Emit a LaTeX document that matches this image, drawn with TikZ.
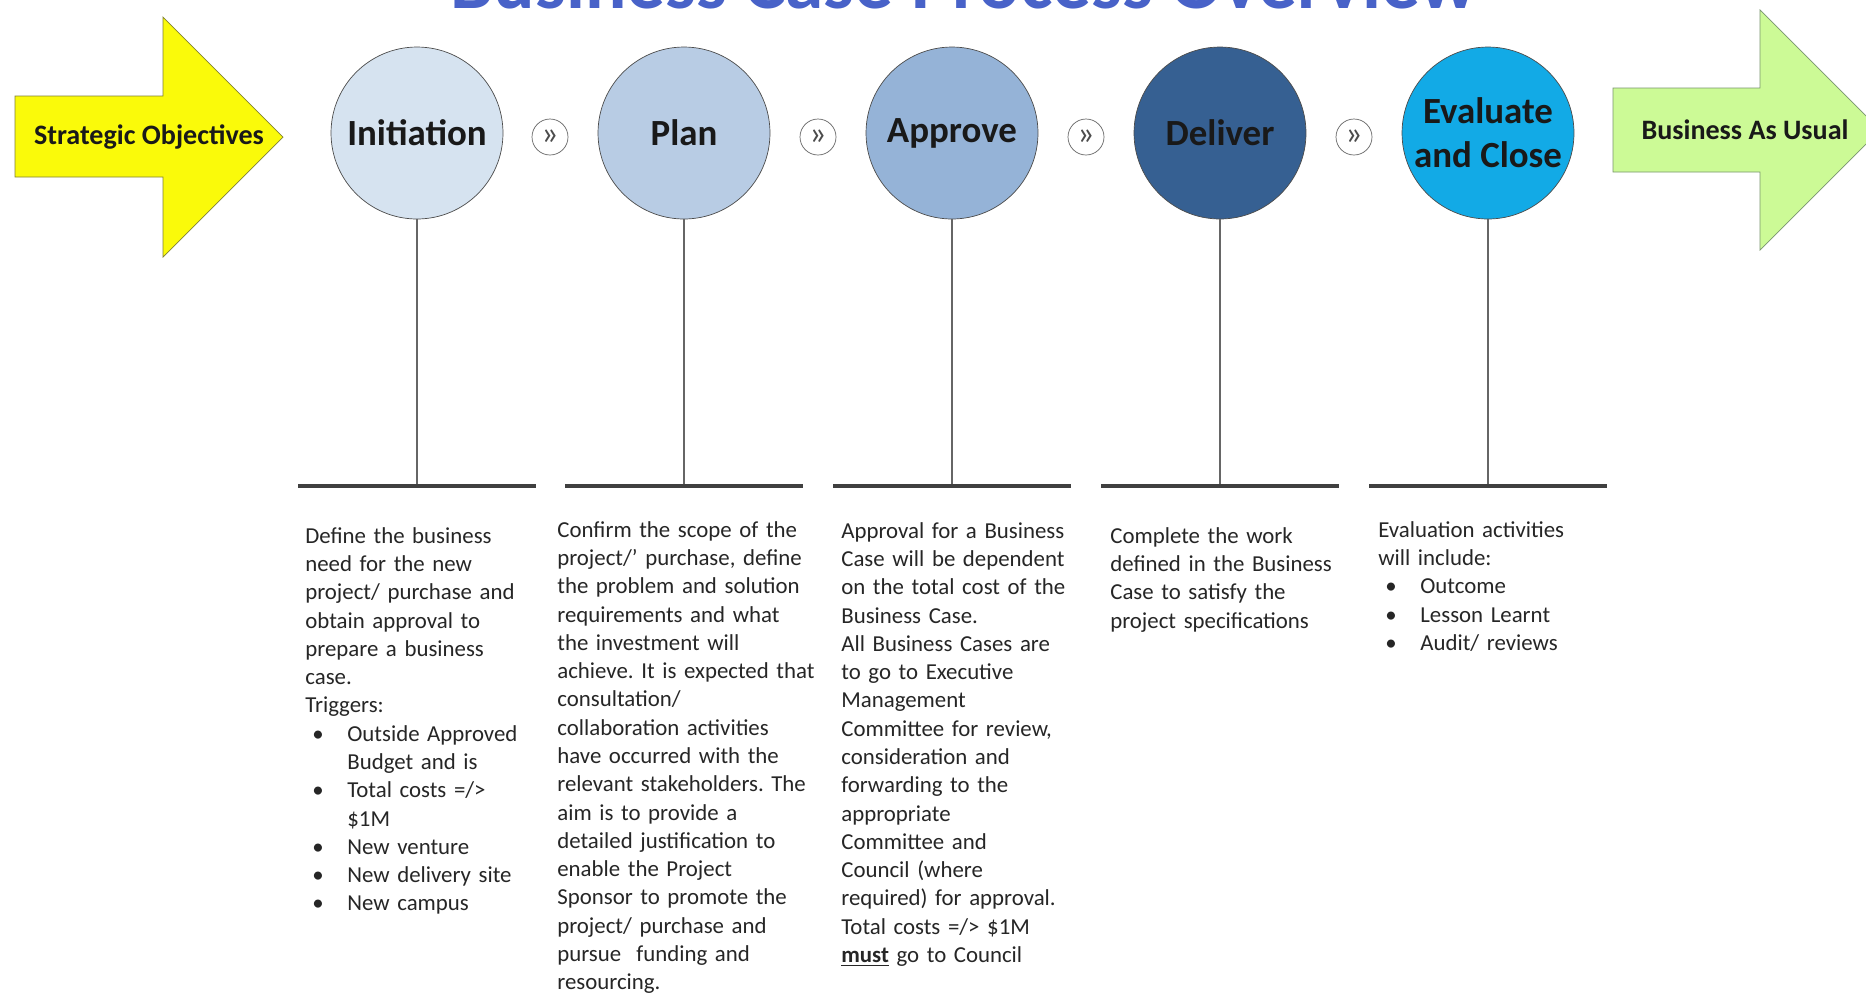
\documentclass[tikz,border=0pt]{standalone}
\usepackage{fontspec}
\setmainfont{Carlito}
\usetikzlibrary{positioning}
\frenchspacing
\definecolor{titleblue}{RGB}{72,98,200}
\definecolor{cirini}{RGB}{214,227,240}
\definecolor{cirplan}{RGB}{184,204,228}
\definecolor{cirappr}{RGB}{149,179,215}
\definecolor{cirdeliv}{RGB}{54,96,146}
\definecolor{cireval}{RGB}{18,170,230}
\definecolor{yelfill}{RGB}{250,250,10}
\definecolor{yeledge}{RGB}{130,130,50}
\definecolor{grnfill}{RGB}{204,250,150}
\definecolor{grnedge}{RGB}{120,150,110}
\newcommand{\bitem}[1]{\hspace*{0.14cm}\makebox[0.7cm][l]{\textbullet}#1}
\newcommand{\bcont}{\hspace*{0.84cm}}
\tikzset{
    stagecir/.style={circle,draw=black!70,thin,minimum size=3.44cm,inner sep=0pt,align=center,font=\bfseries\fontsize{21}{25}\selectfont,text=black!90},
    chevcir/.style={circle,draw=black!60,fill=white,minimum size=0.72cm,inner sep=0pt,font=\fontsize{19}{19}\selectfont,text=black!70},
    arrowyel/.style={draw=yeledge,fill=yelfill,thin},
    arrowgrn/.style={draw=grnedge,fill=grnfill,thin},
    arrowtxt/.style={font=\bfseries\fontsize{16}{18}\selectfont,text=black!90,inner sep=0pt},
    stemline/.style={draw=black!60,line width=0.8pt},
    barline/.style={draw=black!75,line width=2.4pt},
    desctxt/.style={anchor=north west,inner sep=0pt,align=left,text width=6cm,font=\fontsize{13}{16.1}\selectfont,text=black!85},
    titletxt/.style={anchor=base,inner sep=0pt,font=\bfseries\fontsize{44}{48}\selectfont,text=titleblue}
}

\begin{document}
\begin{tikzpicture}[x=0.02cm,y=-0.02cm]
        \useasboundingbox (0,0) rectangle (1866,992);
        \fill[white] (0,0) rectangle (1866,992);
        \clip (0,0) rectangle (1866,992);

        % Title (cut off at the top)
        \node[titletxt] (bctitle) at (964,8) {Business Case Process Overview};

        % Entry and exit arrows
        \draw[arrowyel] (15,96) -- (163,96) -- (163,17) -- (283,137) -- (163,257) -- (163,177) -- (15,177) -- cycle;
        \node[arrowtxt] (stratobj) at (149,137) {Strategic Objectives};
        \draw[arrowgrn] (1613,88) -- (1760,88) -- (1760,10) -- (1880,130) -- (1760,250) -- (1760,172) -- (1613,172) -- cycle;
        \node[arrowtxt] (bau) at (1745,130) {Business As Usual};

        % Stages
        \node[stagecir,fill=cirini] (initiation) at (417,133) {Initiation};
        \node[stagecir,fill=cirplan] (plan) at (684,133) {Plan};
        \node[stagecir,fill=cirappr] (approve) at (952,133) {Approve};
        \node[stagecir,fill=cirdeliv] (deliver) at (1220,133) {Deliver};
        \node[stagecir,fill=cireval] (evaluate) at (1488,133) {Evaluate\\and Close};

        % Chevrons between stages
        \node[chevcir] (chevone) at (550,137) {»};
        \node[chevcir] (chevtwo) at (818,137) {»};
        \node[chevcir] (chevthree) at (1086,137) {»};
        \node[chevcir] (chevfour) at (1354,137) {»};

        % Stems and bars
        \coordinate (initbar) at (417,486);
        \coordinate (planbar) at (684,486);
        \coordinate (apprbar) at (952,486);
        \coordinate (delivbar) at (1220,486);
        \coordinate (evalbar) at (1488,486);
        \draw[stemline] (initiation.south) -- (initbar);
        \draw[stemline] (plan.south) -- (planbar);
        \draw[stemline] (approve.south) -- (apprbar);
        \draw[stemline] (deliver.south) -- (delivbar);
        \draw[stemline] (evaluate.south) -- (evalbar);
        \draw[barline] ([xshift=-2.38cm]initbar) -- ([xshift=2.38cm]initbar);
        \draw[barline] ([xshift=-2.38cm]planbar) -- ([xshift=2.38cm]planbar);
        \draw[barline] ([xshift=-2.38cm]apprbar) -- ([xshift=2.38cm]apprbar);
        \draw[barline] ([xshift=-2.38cm]delivbar) -- ([xshift=2.38cm]delivbar);
        \draw[barline] ([xshift=-2.38cm]evalbar) -- ([xshift=2.38cm]evalbar);

        % Descriptions
        \node[desctxt] (initdesc) at (305,527) {Define the business\\need for the new\\project/ purchase and\\obtain approval to\\prepare a business\\case.\\Triggers:\\\bitem{Outside Approved}\\\bcont Budget and is\\\bitem{Total costs =/>}\\\bcont \$1M\\\bitem{New venture}\\\bitem{New delivery site}\\\bitem{New campus}};
        \node[desctxt] (plandesc) at (557,521) {Confirm the scope of the\\project/’ purchase, define\\the problem and solution\\requirements and what\\the investment will\\achieve. It is expected that\\consultation/\\collaboration activities\\have occurred with the\\relevant stakeholders. The\\aim is to provide a\\detailed justification to\\enable the Project\\Sponsor to promote the\\project/ purchase and\\pursue \ funding and\\resourcing.};
        \node[desctxt] (apprdesc) at (841,522) {Approval for a Business\\Case will be dependent\\on the total cost of the\\Business Case.\\All Business Cases are\\to go to Executive\\Management\\Committee for review,\\consideration and\\forwarding to the\\appropriate\\Committee and\\Council (where\\required) for approval.\\Total costs =/> \$1M\\\underline{\textbf{must}} go to Council};
        \node[desctxt] (delivdesc) at (1110,527) {Complete the work\\defined in the Business\\Case to satisfy the\\project specifications};
        \node[desctxt] (evaldesc) at (1378,521) {Evaluation activities\\will include:\\\bitem{Outcome}\\\bitem{Lesson Learnt}\\\bitem{Audit/ reviews}};
    \end{tikzpicture}
\end{document}
